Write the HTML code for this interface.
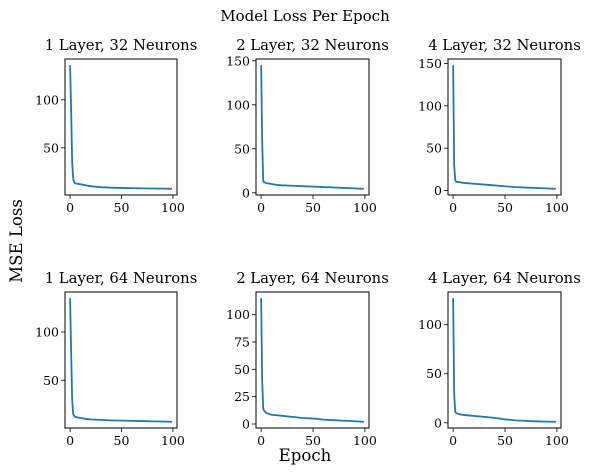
<!DOCTYPE html>
<html><head><meta charset="utf-8"><style>
html,body{margin:0;padding:0;background:#fff;}
svg{display:block;font-family:"DejaVu Serif","Liberation Serif",serif;}
</style></head><body>
<svg id="fig" width="591" height="475" viewBox="0 0 591 475">
<text x="305" y="21" font-size="15" text-anchor="middle" fill="#000">Model Loss Per Epoch</text>
<text transform="translate(22,241) rotate(-90)" font-size="16.6" text-anchor="middle" fill="#000">MSE Loss</text>
<text x="305" y="461" font-size="16.6" text-anchor="middle" fill="#000">Epoch</text>
</svg>
<script>
const epochs = [0,1,2,3,4,5,10,15,20,30,40,50,60,70,80,90,99];
const titles = ["1 Layer, 32 Neurons","2 Layer, 32 Neurons","4 Layer, 32 Neurons","1 Layer, 64 Neurons","2 Layer, 64 Neurons","4 Layer, 64 Neurons"];
const loss1 = [136,90,35,18,14,13,12,11,10,9,8.5,8.2,8,7.8,7.6,7.5,7.3];
const loss2 = [145,60,13,12,11.5,11,10,9,8.5,8,7.5,7,6.5,6,5.5,5,4.5];
const loss3 = [148,30,12,10.5,10,10,9,8.5,8,7,6,5,4,3.5,3,2.5,2];
const loss4 = [135,80,30,15,13,12,11,10,9.5,9,8.5,8.2,8,7.8,7.5,7.3,7];
const loss5 = [115,40,14,12,11,10,8.5,8,7.5,6.5,5.5,5,4,3.5,3,2.5,2];
const loss6 = [127,30,11,10,9.5,9,8,7.5,7,6,5,3.5,2.5,2,1.5,1.2,1];
const yTicks1 = [50,100];
const yTicks2 = [0,50,100,150];
const yTicks3 = [0,50,100,150];
const yTicks4 = [50,100];
const yTicks5 = [0,25,50,75,100];
const yTicks6 = [0,50,100];
const xTicks = [0,50,100];

const series = [loss1,loss2,loss3,loss4,loss5,loss6];
const yTicksAll = [yTicks1,yTicks2,yTicks3,yTicks4,yTicks5,yTicks6];
const boxes = [[65,59,177,195],[256,59,369,195],[448,59,561,195],[65,292,177,428],[256,292,369,428],[448,292,561,428]];
const NS = "http://www.w3.org/2000/svg";
const svg = document.getElementById('fig');
function mk(tag, attrs, parent){const e=document.createElementNS(NS,tag);for(const k in attrs)e.setAttribute(k,attrs[k]);(parent||svg).appendChild(e);return e;}

series.forEach((data,i)=>{
  const [L,T,R,B]=boxes[i];
  const g=mk('g',{});
  
  
  const xmin=0,xmax=epochs[epochs.length-1];
  const xpad=(xmax-xmin)*0.05;
  const ymin=Math.min(...data),ymax=Math.max(...data);
  const ypad=(ymax-ymin)*0.05;
  const xs=v=>L+(v-(xmin-xpad))/((xmax+xpad)-(xmin-xpad))*(R-L);
  const ys=v=>B-(v-(ymin-ypad))/((ymax+ypad)-(ymin-ypad))*(B-T);
  const t=mk('text',{x:(L+R)/2,y:T-9,'font-size':14.8,'text-anchor':'middle',fill:'#000'},g);
  t.textContent=titles[i];
  
  
  const pts=data.map((v,j)=>xs(epochs[j]).toFixed(2)+','+ys(v).toFixed(2)).join(' ');
  const line=mk('polyline',{points:pts,fill:'none',stroke:'#1f77b4','stroke-width':1.8,'stroke-linejoin':'round'},g);
  
  
  const frame=mk('rect',{x:L,y:T,width:R-L,height:B-T,fill:'none',stroke:'#000','stroke-width':1},g);
  
  
  xTicks.forEach(v=>{
    const x=xs(v);
    mk('line',{x1:x,x2:x,y1:B,y2:B+4,stroke:'#000','stroke-width':0.8},g);
    const tl=mk('text',{x:x,y:B+17,'font-size':12.5,'text-anchor':'middle',fill:'#000'},g);
    tl.textContent=v;
    
    
  });
  yTicksAll[i].forEach(v=>{
    const y=ys(v);
    mk('line',{x1:L-4,x2:L,y1:y,y2:y,stroke:'#000','stroke-width':0.8},g);
    const tl=mk('text',{x:L-6,y:y+4.5,'font-size':12.5,'text-anchor':'end',fill:'#000'},g);
    tl.textContent=v;
    
    
  });
});
</script>
</body></html>
